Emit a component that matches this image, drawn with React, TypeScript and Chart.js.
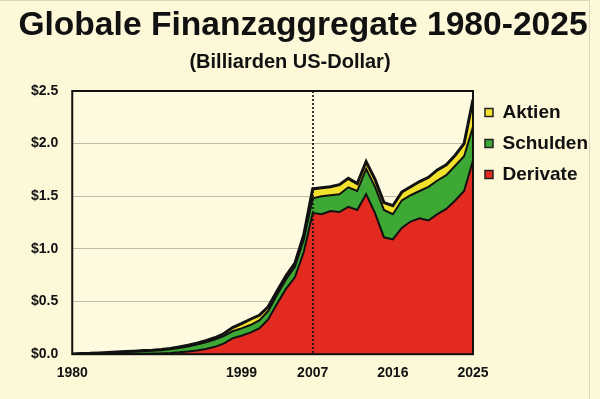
import React, { useEffect, useRef } from 'react';
import { Chart, registerables } from 'chart.js';

Chart.register(...registerables);

const TITLE = 'Globale Finanzaggregate 1980-2025';
const SUBTITLE = '(Billiarden US-Dollar)';

const YEARS = [
  1980, 1981, 1982, 1983, 1984, 1985, 1986, 1987, 1988, 1989,
  1990, 1991, 1992, 1993, 1994, 1995, 1996, 1997, 1998, 1999,
  2000, 2001, 2002, 2003, 2004, 2005, 2006, 2007, 2008, 2009,
  2010, 2011, 2012, 2013, 2014, 2015, 2016, 2017, 2018, 2019,
  2020, 2021, 2022, 2023, 2024, 2025,
];

const DERIVATE = [
  0, 0, 0, 0.001, 0.001, 0.002, 0.003, 0.004, 0.005, 0.006,
  0.008, 0.012, 0.018, 0.026, 0.036, 0.05, 0.07, 0.1, 0.15, 0.175,
  0.205, 0.245, 0.33, 0.48, 0.62, 0.73, 0.97, 1.34, 1.33, 1.36,
  1.35, 1.4, 1.37, 1.52, 1.34, 1.11, 1.09, 1.2, 1.26, 1.29,
  1.27, 1.33, 1.38, 1.46, 1.55, 1.84,
];

const SCHULDEN = [
  0.002, 0.004, 0.006, 0.008, 0.011, 0.014, 0.017, 0.02, 0.023, 0.026,
  0.03, 0.034, 0.04, 0.047, 0.055, 0.062, 0.068, 0.072, 0.068, 0.07,
  0.072, 0.075, 0.08, 0.085, 0.09, 0.1, 0.12, 0.14, 0.17, 0.15,
  0.17, 0.185, 0.18, 0.24, 0.25, 0.26, 0.24, 0.26, 0.25, 0.26,
  0.32, 0.32, 0.32, 0.33, 0.33, 0.32,
];

const AKTIEN = [
  0.001, 0.002, 0.002, 0.003, 0.004, 0.004, 0.005, 0.005, 0.006, 0.006,
  0.007, 0.008, 0.01, 0.012, 0.014, 0.016, 0.018, 0.022, 0.035, 0.045,
  0.055, 0.05, 0.04, 0.035, 0.035, 0.035, 0.045, 0.09, 0.08, 0.08,
  0.09, 0.085, 0.07, 0.07, 0.07, 0.07, 0.08, 0.08, 0.08, 0.09,
  0.09, 0.1, 0.1, 0.1, 0.12, 0.26,
];

const X_TICKS = [1980, 1999, 2007, 2016, 2025];
const Y_MIN = 0;
const Y_MAX = 2.5;
const Y_STEP = 0.5;
const MARKER_YEAR = 2007;

const FONT = '"Liberation Sans", Arial, Helvetica, sans-serif';
const OUTER_BG = '#FCF8D8';
const PLOT_BG = '#FDFADF';
const INK = '#111111';

const decorPlugin = {
  id: 'decor',
  beforeDraw(chart: any) {
    const { ctx, width, height, chartArea: a } = chart;
    ctx.save();
    ctx.fillStyle = OUTER_BG;
    ctx.fillRect(0, 0, width, height);
    ctx.fillStyle = PLOT_BG;
    ctx.fillRect(a.left, a.top, a.right - a.left, a.bottom - a.top);
    ctx.strokeStyle = '#DCD8C0';
    ctx.lineWidth = 1;
    ctx.beginPath();
    ctx.moveTo(589.5, 0);
    ctx.lineTo(589.5, height);
    ctx.moveTo(0, 0.5);
    ctx.lineTo(589.5, 0.5);
    ctx.stroke();
    ctx.restore();
  },
  afterDatasetsDraw(chart: any) {
    const { ctx, chartArea: a, scales } = chart;
    const x = Math.round(scales.x.getPixelForValue(MARKER_YEAR));
    ctx.save();
    ctx.strokeStyle = 'rgba(20,20,20,0.85)';
    ctx.lineWidth = 2;
    ctx.setLineDash([2, 2]);
    ctx.beginPath();
    ctx.moveTo(x, a.top);
    ctx.lineTo(x, a.bottom);
    ctx.stroke();
    ctx.setLineDash([]);
    ctx.strokeStyle = INK;
    ctx.lineWidth = 2;
    ctx.strokeRect(a.left, a.top, a.right - a.left, a.bottom - a.top);
    ctx.restore();
  },
  afterDraw(chart: any) {
    const { ctx } = chart;
    ctx.save();
    ctx.fillStyle = INK;
    ctx.textAlign = 'center';
    ctx.textBaseline = 'alphabetic';
    ctx.font = `bold 33.6px ${FONT}`;
    ctx.fillText(TITLE, 303, 35);
    ctx.font = `bold 20px ${FONT}`;
    ctx.fillText(SUBTITLE, 290, 68);
    ctx.restore();
  },
};

export default function App() {
  const ref = useRef<HTMLCanvasElement | null>(null);

  useEffect(() => {
    if (!ref.current) return;
    const pts = (arr: number[]) => YEARS.map((yr, i) => ({ x: yr, y: arr[i] }));
    const chart = new Chart(ref.current, {
      type: 'line',
      data: {
        datasets: [
          {
            label: 'Derivate',
            data: pts(DERIVATE),
            backgroundColor: '#E32A21',
            borderColor: INK,
            borderWidth: 2,
            fill: 'origin',
            pointRadius: 0,
            tension: 0,
          },
          {
            label: 'Schulden',
            data: pts(SCHULDEN),
            backgroundColor: '#3EA834',
            borderColor: INK,
            borderWidth: 2,
            fill: '-1',
            pointRadius: 0,
            tension: 0,
          },
          {
            label: 'Aktien',
            data: pts(AKTIEN),
            backgroundColor: '#F3E22C',
            borderColor: INK,
            borderWidth: 3,
            fill: '-1',
            pointRadius: 0,
            tension: 0,
          },
        ],
      },
      options: {
        responsive: false,
        animation: false,
        devicePixelRatio: 1,
        layout: { padding: { left: 17, right: 2, top: 91, bottom: 14 } },
        plugins: {
          title: { display: false },
          tooltip: { enabled: false },
          legend: {
            display: true,
            position: 'right',
            align: 'start',
            reverse: true,
            labels: {
              boxWidth: 8,
              boxHeight: 8,
              padding: 12,
              color: INK,
              font: { family: FONT, size: 19, weight: 'bold' },
              generateLabels(chart: any) {
                const items = Chart.defaults.plugins.legend.labels.generateLabels(chart);
                return items.map((it: any) => ({ ...it, lineWidth: 1.5, strokeStyle: '#222' }));
              },
            },
          },
        },
        scales: {
          x: {
            type: 'linear',
            min: 1980,
            max: 2025,
            grid: { display: false },
            border: { display: false },
            afterBuildTicks(scale: any) {
              scale.ticks = X_TICKS.map((v) => ({ value: v }));
            },
            ticks: {
              autoSkip: false,
              maxRotation: 0,
              padding: 3,
              color: INK,
              font: { family: FONT, size: 14, weight: 'bold' },
              callback: (v: any) => String(v),
            },
          },
          y: {
            stacked: true,
            min: Y_MIN,
            max: Y_MAX,
            grid: { color: '#BFBBA4', lineWidth: 1, drawTicks: false },
            border: { display: false },
            ticks: {
              stepSize: Y_STEP,
              padding: 14,
              color: INK,
              font: { family: FONT, size: 14, weight: 'bold' },
              callback: (v: any) => '$' + Number(v).toFixed(1),
            },
          },
        },
      },
      plugins: [decorPlugin],
    });
    return () => chart.destroy();
  }, []);

  return (
    <div style={{ position: 'absolute', left: 0, top: 0, width: 600, height: 399 }}>
      <canvas ref={ref} width={600} height={399} />
    </div>
  );
}
